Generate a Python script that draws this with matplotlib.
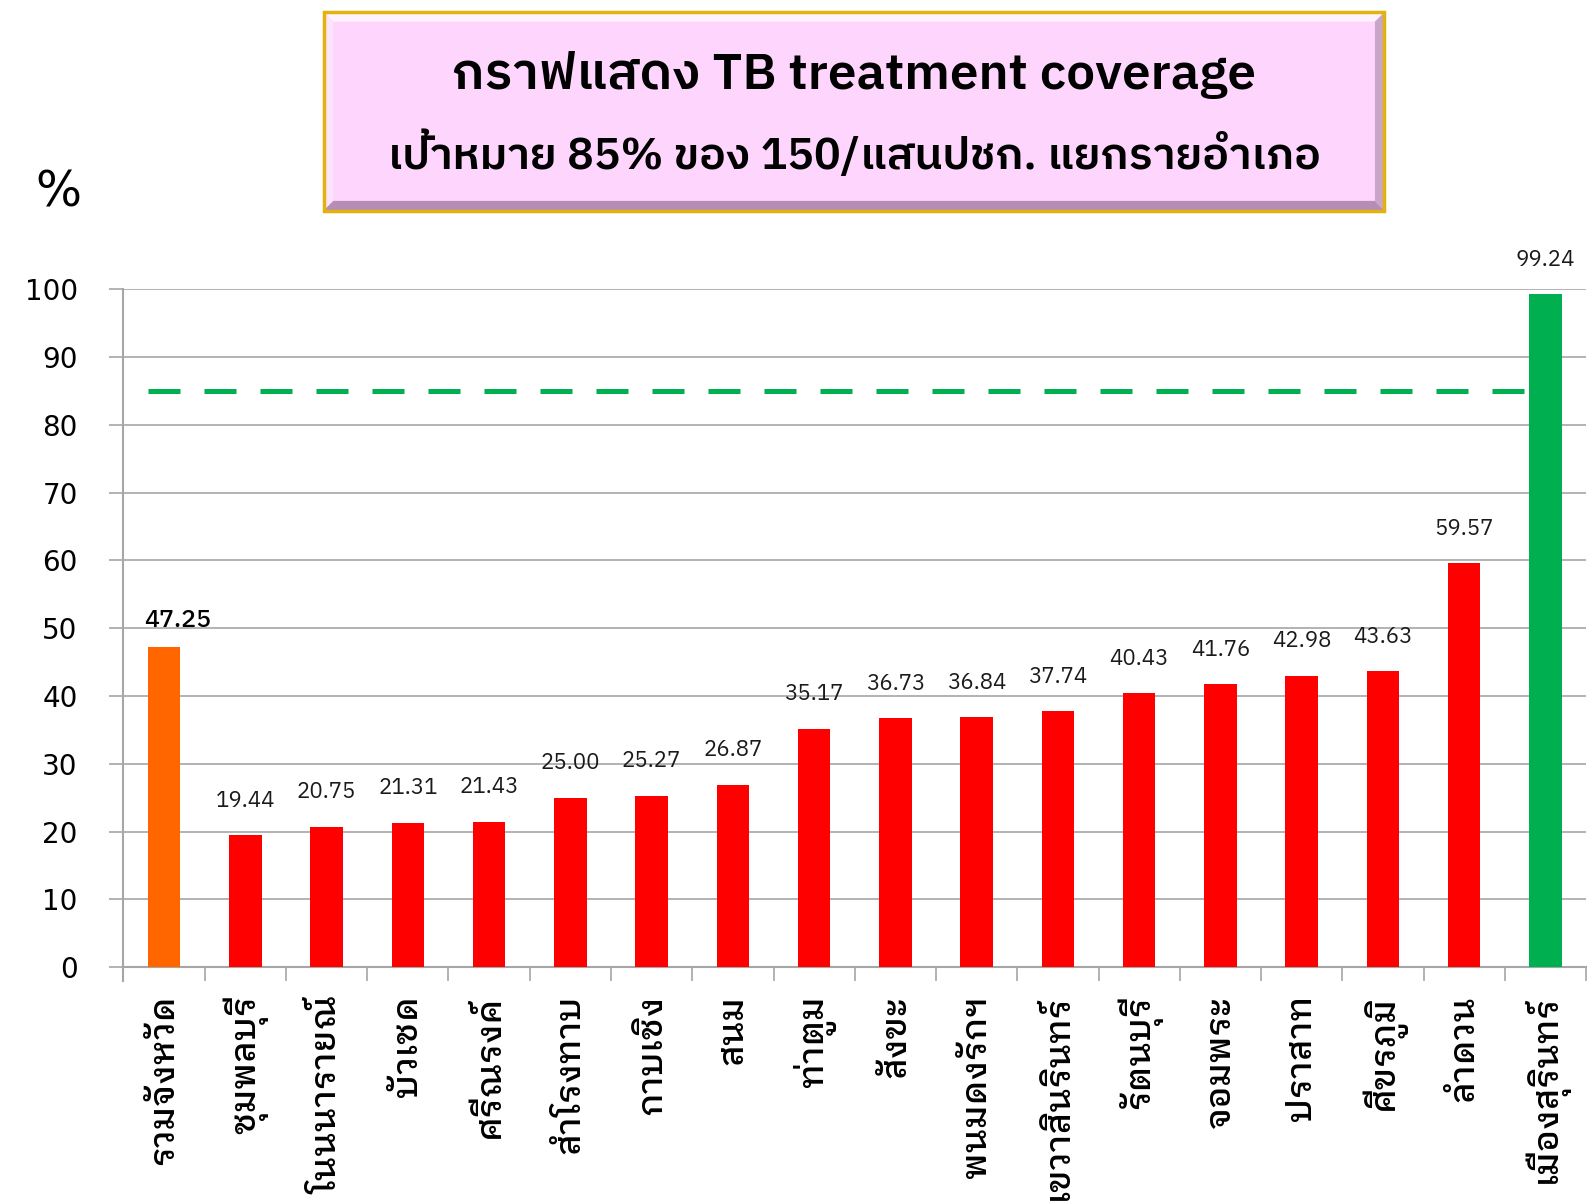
import matplotlib
matplotlib.use('Agg')
import matplotlib.pyplot as plt
from matplotlib.patches import Rectangle, Polygon

# ---- data ----
districts = ['รวมจังหวัด', 'ชุมพลบุรี', 'โนนนารายณ์', 'บัวเชด', 'ศรีณรงค์',
             'สำโรงทาบ', 'กาบเชิง', 'สนม', 'ท่าตูม', 'สังขะ', 'พนมดงรักฯ',
             'เขวาสินรินทร์', 'รัตนบุรี', 'จอมพระ', 'ปราสาท', 'ศีขรภูมิ',
             'ลำดวน', 'เมืองสุรินทร์']
coverage = [47.25, 19.44, 20.75, 21.31, 21.43, 25.00, 25.27, 26.87, 35.17,
            36.73, 36.84, 37.74, 40.43, 41.76, 42.98, 43.63, 59.57, 99.24]
target = 85
yticks = [0, 10, 20, 30, 40, 50, 60, 70, 80, 90, 100]
title1 = 'กราฟแสดง TB treatment coverage'
title2 = 'เป้าหมาย 85% ของ 150/แสนปชก. แยกรายอำเภอ'

THAI = ['IBM Plex Sans Thai Looped', 'DejaVu Sans']
THAI_TITLE = ['IBM Plex Sans Thai', 'DejaVu Sans']

colors = ['#FF6600'] + ['#FF0000'] * (len(coverage) - 2) + ['#00B050']

fig = plt.figure(figsize=(15.87, 12.03), dpi=100)
ax = fig.add_axes([0.0778, 0.196, 0.9216, 0.5635])

x = list(range(len(districts)))
ax.bar(x, coverage, width=0.4, color=colors, zorder=3)

# target line
ax.plot([-0.2, len(districts) - 1], [target, target], color='#00B050',
        lw=3.6, linestyle=(0, (6.4, 4.8)), dash_capstyle='butt', zorder=2)

# value labels
for i, v in enumerate(coverage):
    if i == 0:
        ax.annotate(f'{v:.2f}', (i, v), xytext=(10, 11), textcoords='offset points',
                    ha='center', va='bottom', fontsize=18, color='black',
                    family=THAI_TITLE, fontweight='medium')
    else:
        ax.annotate(f'{v:.2f}', (i, v), xytext=(0, 17), textcoords='offset points',
                    ha='center', va='bottom', fontsize=16, color='#1a1a1a',
                    family=THAI_TITLE, fontweight='normal', annotation_clip=False)

ax.set_xlim(-0.5, len(districts) - 0.5)
ax.set_ylim(0, 100)
ax.set_yticks(yticks)
ax.set_yticklabels([str(t) for t in yticks], fontsize=20, family='DejaVu Sans')
ax.yaxis.grid(True, color='#A6A6A6', lw=1.2, zorder=0)
ax.tick_params(axis='y', length=10, width=1.2, color='#A6A6A6', pad=23)

ax.set_xticks(x)
ax.set_xticklabels(districts, rotation=90, fontsize=25, family=THAI,
                   fontweight='medium', va='top')
ax.set_xticks([i - 0.5 for i in range(len(districts) + 1)], minor=True)
ax.tick_params(axis='x', which='major', length=0, pad=20)
ax.tick_params(axis='x', which='minor', length=10, width=1.2, color='#A6A6A6')

for s in ['top', 'right']:
    ax.spines[s].set_visible(False)
for s in ['left', 'bottom']:
    ax.spines[s].set_color('#A6A6A6')
    ax.spines[s].set_linewidth(1.5)
ax.spines['left'].set_bounds(-2, 100)
ax.set_axisbelow(True)

# "%" label
fig.text(0.037, 0.84, '%', fontsize=35, ha='center', va='center', family='DejaVu Sans')

# ---- title box with bevel ----
x0, y0, x1, y1 = 0.204, 0.825, 0.8724, 0.990
bw, bh = 0.006, 0.008
fig.patches.append(Rectangle((x0, y0), x1 - x0, y1 - y0, transform=fig.transFigure,
                             facecolor='#FDD5FD', edgecolor='none', zorder=1))
bevels = [
    ([(x0, y1), (x1, y1), (x1 - bw, y1 - bh), (x0 + bw, y1 - bh)], '#FFF2FF'),
    ([(x0, y0), (x0, y1), (x0 + bw, y1 - bh), (x0 + bw, y0 + bh)], '#FBE4FB'),
    ([(x0, y0), (x1, y0), (x1 - bw, y0 + bh), (x0 + bw, y0 + bh)], '#B58DB5'),
    ([(x1, y0), (x1, y1), (x1 - bw, y1 - bh), (x1 - bw, y0 + bh)], '#C9A5C9'),
]
for pts, c in bevels:
    fig.patches.append(Polygon(pts, closed=True, transform=fig.transFigure,
                               facecolor=c, edgecolor='none', zorder=2))
fig.patches.append(Rectangle((x0, y0), x1 - x0, y1 - y0, transform=fig.transFigure,
                             facecolor='none', edgecolor='#E3B20C', lw=2.5, zorder=3))

fig.text((x0 + x1) / 2, 0.938, title1, fontsize=37, fontweight='semibold',
         ha='center', va='center', family=THAI_TITLE, zorder=5)
fig.text((x0 + x1) / 2, 0.872, title2, fontsize=32, fontweight='semibold',
         ha='center', va='center', family=THAI_TITLE, zorder=5)

fig.savefig('out.png', dpi=100)
